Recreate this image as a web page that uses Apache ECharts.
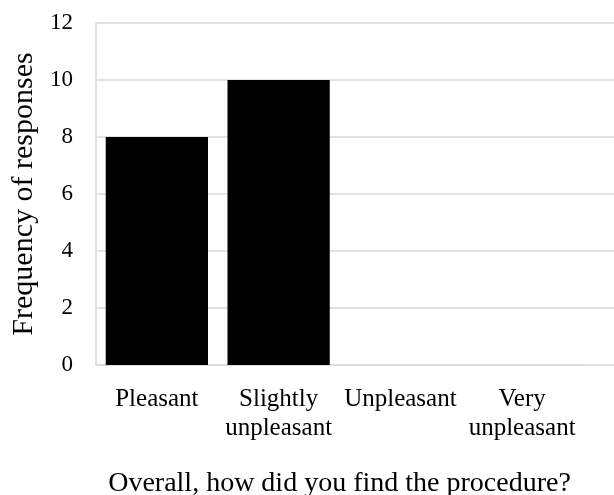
<!DOCTYPE html>
<html><head><meta charset="utf-8">
<script src="https://cdn.jsdelivr.net/npm/echarts@6/dist/echarts.min.js"></script>
<style>html,body{margin:0;padding:0;background:#fff}#c{width:614px;height:495px}</style>
</head><body><div id="c"></div>
<script>
const categories = ['Pleasant', 'Slightly\nunpleasant', 'Unpleasant', 'Very\nunpleasant'];
const frequencies = [8, 10, 0, 0];
const yTicks = [0, 2, 4, 6, 8, 10, 12];
const xTitle = 'Overall, how did you find the procedure?';
const yTitle = 'Frequency of responses';

const font = 'Liberation Serif';
const chart = echarts.init(document.getElementById('c'));
chart.setOption({
  animation: false,
  backgroundColor: '#fff',
  grid: [
    {left: 96, right: 31, top: 23, bottom: 130, outerBoundsMode: 'none', containLabel: false},
    {left: 96, right: 0, top: 23, bottom: 130, outerBoundsMode: 'none', containLabel: false}
  ],
  xAxis: [
    {type: 'category', gridIndex: 0, data: categories,
     axisLine: {show: true, lineStyle: {color: '#d9d9d9', width: 1.5}},
     axisTick: {show: false},
     axisLabel: {fontFamily: font, fontSize: 25, color: '#000', margin: 20, lineHeight: 29, interval: 0},
     name: xTitle, nameLocation: 'middle', nameGap: 105,
     nameTextStyle: {fontFamily: font, fontSize: 28, color: '#000'}},
    {type: 'value', gridIndex: 1, show: false, min: 0, max: 1}
  ],
  yAxis: [
    {type: 'value', gridIndex: 0, min: yTicks[0], max: yTicks[yTicks.length-1], interval: 2,
     axisLine: {show: true, lineStyle: {color: '#d9d9d9', width: 1.5}},
     axisTick: {show: false}, splitLine: {show: false},
     axisLabel: {fontFamily: font, fontSize: 23, color: '#000', margin: 23},
     name: yTitle, nameLocation: 'middle', nameGap: 54,
     nameTextStyle: {fontFamily: font, fontSize: 30, color: '#000'}},
    {type: 'value', gridIndex: 1, min: yTicks[0], max: yTicks[yTicks.length-1], interval: 2,
     axisLine: {show: false}, axisTick: {show: false}, axisLabel: {show: false},
     splitLine: {show: true, lineStyle: {color: '#d9d9d9', width: 1.5}}}
  ],
  series: [{
    type: 'bar', xAxisIndex: 0, yAxisIndex: 0, data: frequencies,
    barCategoryGap: '16%', itemStyle: {color: '#000'}, z: 5
  }]
});
</script></body></html>
